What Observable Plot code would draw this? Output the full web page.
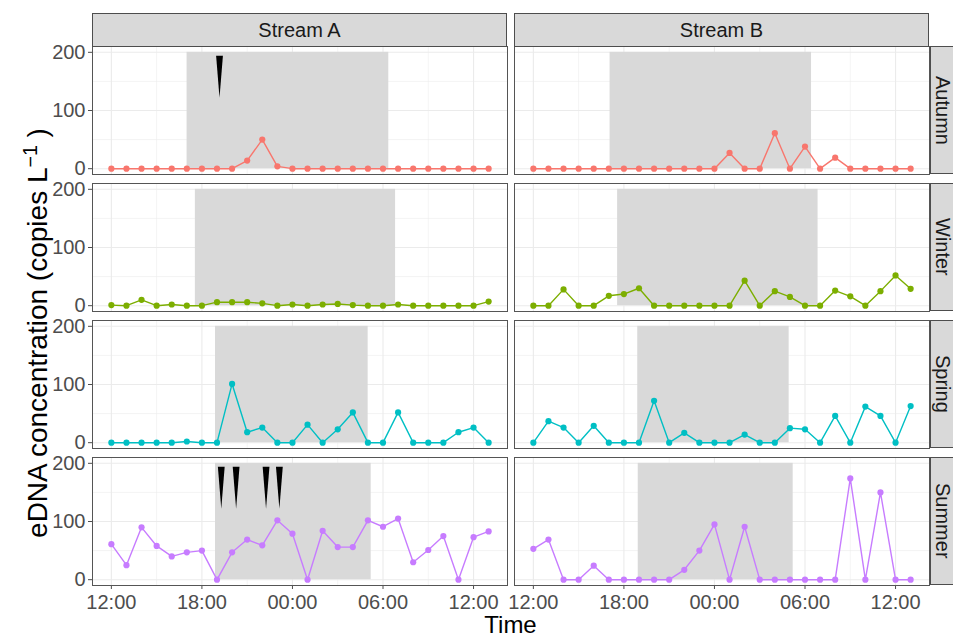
<!DOCTYPE html>
<html>
<head>
<meta charset="utf-8">
<script src="https://cdn.jsdelivr.net/npm/d3@7"></script>
<script src="https://cdn.jsdelivr.net/npm/@observablehq/plot@0.6"></script>
<style>
  html, body { margin: 0; padding: 0; background: #ffffff; }
  #chart { position: relative; width: 953px; height: 638px; overflow: hidden;
           font-family: "Liberation Sans", Arial, sans-serif; background: #fff; }
  .panel { position: absolute; }
  .strip-top { position: absolute; box-sizing: border-box; background: #d9d9d9;
               border: 1px solid #4d4d4d; display: flex; align-items: center;
               justify-content: center; font-size: 20px; color: #1a1a1a; }
  .strip-right { position: absolute; box-sizing: border-box; background: #d9d9d9;
                 border: 1px solid #4d4d4d; border-right: none; display: flex; align-items: center;
                 justify-content: center; font-size: 20px; line-height: 20px; color: #1a1a1a;
                 writing-mode: vertical-rl; padding-left: 2px; }
  .xtitle { position: absolute; font-size: 24px; line-height: 24px; color: #000;
            transform: translateX(-50%); white-space: nowrap; }
  .ytitle { position: absolute; font-size: 28px; line-height: 28px; color: #000;
            transform: translate(-50%, -50%) rotate(-90deg); white-space: nowrap; }
  .ytitle sup { font-size: 0.7em; vertical-align: 0.5em; line-height: 0; }
</style>
</head>
<body>
<div id="chart"></div>
<script>
// ---------------- data ----------------
const streams = ["Stream A", "Stream B"];
const seasons = ["Autumn", "Winter", "Spring", "Summer"];
const seasonColors = ["#F8766D", "#7CAE00", "#00BFC4", "#C77CFF"];

const sampleTimes = ["12:00","13:00","14:00","15:00","16:00","17:00","18:00","19:00",
  "20:00","21:00","22:00","23:00","00:00","01:00","02:00","03:00","04:00","05:00",
  "06:00","07:00","08:00","09:00","10:00","11:00","12:00","13:00"];

const autumnA = [0,0,0,0,0,0,0,0,0,14,50,4,0,0,0,0,0,0,0,0,0,0,0,0,0,0];
const autumnB = [0,0,0,0,0,0,0,0,0,0,0,0,0,27,0,0,61,0,38,0,19,0,0,0,0,0];
const winterA = [1,0,10,0,2,0,0,6,6,6,4,0,2,0,2,3,1,0,0,2,0,0,0,0,0,7];
const winterB = [0,0,28,0,0,17,20,30,0,0,0,0,0,0,43,0,25,15,0,0,26,16,0,25,52,29];
const springA = [0,0,0,0,0,2,0,0,101,18,26,0,0,31,0,23,52,0,0,52,0,0,0,18,26,0];
const springB = [0,37,26,0,29,0,0,0,72,0,17,0,0,0,14,0,0,25,23,0,46,0,62,46,0,63];
const summerA = [61,25,90,58,40,47,50,0,47,69,59,102,79,0,84,56,56,102,91,105,30,51,75,0,73,83];
const summerB = [53,69,0,0,24,0,0,0,0,0,17,50,95,0,91,0,0,0,0,0,0,174,0,150,0,0];

// night (dark period) start / end per season, by stream
const nightStartA = ["17:01","17:34","18:54","18:54"];
const nightEndA   = ["06:23","06:50","05:01","05:13"];
const nightStartB = ["17:05","17:35","18:55","18:57"];
const nightEndB   = ["06:26","06:52","04:57","05:13"];

// event markers (black wedges)
const eventsAutumnA = ["19:10"];
const eventsSummerA = ["19:17","20:16","22:15","23:08"];
const eventLevel = 158;

const yLimits = [0, 200];
const yTicks = [0, 100, 200];
const yMinor = [50, 150];

// ---------------- helpers ----------------
const base = Date.UTC(2000, 0, 1);
function hm(s) { const [h, m] = s.split(":").map(Number); return [h, m]; }
function parseSeq(arr) {
  let day = 0, prev = -1;
  return arr.map(s => {
    const [h, m] = hm(s);
    if (h < prev) day++;
    prev = h;
    return new Date(base + day * 864e5 + h * 36e5 + m * 6e4);
  });
}
function parseNightTime(s) {
  const [h, m] = hm(s);
  const day = h >= 12 ? 0 : 1;
  return new Date(base + day * 864e5 + h * 36e5 + m * 6e4);
}

const times = parseSeq(sampleTimes);
const series = {
  "Stream A": [autumnA, winterA, springA, summerA],
  "Stream B": [autumnB, winterB, springB, summerB]
};
const nights = {
  "Stream A": seasons.map((_, i) => ({start: parseNightTime(nightStartA[i]), end: parseNightTime(nightEndA[i])})),
  "Stream B": seasons.map((_, i) => ({start: parseNightTime(nightStartB[i]), end: parseNightTime(nightEndB[i])}))
};
const events = {
  "Stream A|Autumn": eventsAutumnA.map(parseNightTime),
  "Stream A|Summer": eventsSummerA.map(parseNightTime)
};

// ggplot-like 5% expansion
const t0 = +times[0], t1 = +times[times.length - 1];
const tp = (t1 - t0) * 0.05;
const xDomain = [new Date(t0 - tp), new Date(t1 + tp)];
const yp = (yLimits[1] - yLimits[0]) * 0.05;
const yDomain = [yLimits[0] - yp, yLimits[1] + yp];
const majorX = d3.utcHour.every(6).range(xDomain[0], xDomain[1]);
const minorX = d3.utcHour.every(3).range(xDomain[0], xDomain[1]).filter(d => d.getUTCHours() % 6 !== 0);

// wedge symbol (downward pointing, elongated)
const wedge = {
  draw(ctx) {
    ctx.moveTo(-3.4, -21);
    ctx.lineTo(3.4, -21);
    ctx.lineTo(0, 21);
    ctx.closePath();
  }
};

// ---------------- layout ----------------
const chart = document.getElementById("chart");
const colLeft = [92, 514];
const rowTop = [46, 183, 320, 457];
const PW = 415, PH = 128;

function makePanel(stream, si, ci) {
  const season = seasons[si];
  const isLeft = ci === 0, isBottom = si === seasons.length - 1;
  const mL = isLeft ? 92 : 1, mR = 1, mT = 1, mB = isBottom ? 40 : 1;
  const vals = series[stream][si];
  const data = times.map((t, i) => ({t, v: vals[i]}));
  const night = nights[stream][si];
  const ev = events[stream + "|" + season] || [];
  const col = seasonColors[si];

  const svg = Plot.plot({
    width: PW + mL + mR,
    height: PH + mT + mB,
    marginLeft: mL, marginRight: mR, marginTop: mT, marginBottom: mB,
    style: {fontFamily: '"Liberation Sans", Arial, sans-serif', fontSize: "20px",
            color: "#4d4d4d", background: "transparent", overflow: "visible"},
    x: {type: "utc", domain: xDomain, ticks: majorX, tickFormat: "%H:%M",
        axis: isBottom ? "bottom" : null, label: null, tickSize: 4, tickPadding: 5},
    y: {domain: yDomain, ticks: yTicks, axis: isLeft ? "left" : null, label: null,
        tickSize: 4, tickPadding: 3},
    marks: [
      Plot.frame({fill: "white", stroke: null}),
      Plot.ruleX(minorX, {stroke: "#ededed", strokeWidth: 0.6}),
      Plot.ruleY(yMinor, {stroke: "#ededed", strokeWidth: 0.6}),
      Plot.ruleX(majorX, {stroke: "#ebebeb", strokeWidth: 1.1}),
      Plot.ruleY(yTicks, {stroke: "#ebebeb", strokeWidth: 1.1}),
      Plot.rect([night], {x1: "start", x2: "end", y1: yLimits[0], y2: yLimits[1], fill: "#d9d9d9"}),
      Plot.line(data, {x: "t", y: "v", stroke: col, strokeWidth: 1.4}),
      Plot.dot(data, {x: "t", y: "v", fill: col, r: 3.1}),
      Plot.dot(ev, {x: d => d, y: eventLevel, symbol: wedge, fill: "black", stroke: "none", r: 5}),
      Plot.frame({stroke: "#555555", strokeWidth: 1})
    ]
  });
  svg.classList.add("panel");
  svg.style.left = (colLeft[ci] - mL) + "px";
  svg.style.top = (rowTop[si] - mT) + "px";
  chart.appendChild(svg);
}

seasons.forEach((s, si) => streams.forEach((st, ci) => makePanel(st, si, ci)));

// strips
streams.forEach((st, ci) => {
  const d = document.createElement("div");
  d.className = "strip-top";
  d.style.left = colLeft[ci] + "px";
  d.style.top = "13px";
  d.style.width = PW + "px";
  d.style.height = (rowTop[0] - 13 + 1) + "px";
  d.textContent = st;
  chart.appendChild(d);
});
seasons.forEach((s, si) => {
  const d = document.createElement("div");
  d.className = "strip-right";
  d.style.left = (colLeft[1] + PW + 1) + "px";
  d.style.top = rowTop[si] + "px";
  d.style.width = "23px";
  d.style.height = PH + "px";
  d.textContent = s;
  chart.appendChild(d);
});

// axis titles
const xt = document.createElement("div");
xt.className = "xtitle";
xt.style.left = ((colLeft[0] + colLeft[1] + PW) / 2) + "px";
xt.style.top = "613px";
xt.textContent = "Time";
chart.appendChild(xt);

const yt = document.createElement("div");
yt.className = "ytitle";
yt.style.left = "38px";
yt.style.top = "333px";
yt.innerHTML = "eDNA concentration (copies L<sup>\u22121</sup> )";
chart.appendChild(yt);
</script>
</body>
</html>
